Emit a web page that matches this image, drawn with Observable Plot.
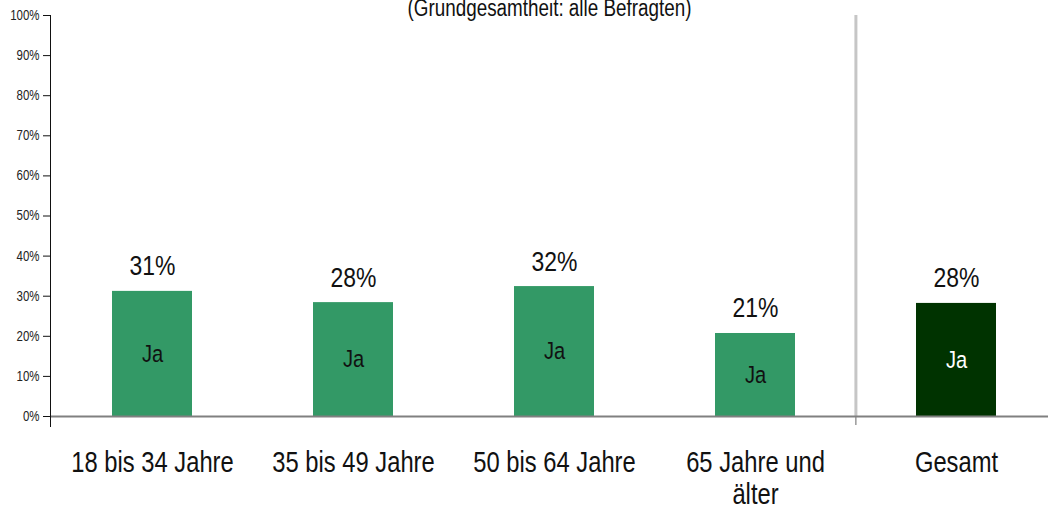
<!DOCTYPE html>
<html>
<head>
<meta charset="utf-8">
<script src="https://cdn.jsdelivr.net/npm/d3@7"></script>
<script src="https://cdn.jsdelivr.net/npm/@observablehq/plot@0.6"></script>
<style>
  html, body { margin: 0; padding: 0; background: #fff; overflow: hidden; }
  svg { display: block; }
</style>
</head>
<body>
<div id="chart"></div>
<script>
const categories = ["18 bis 34 Jahre", "35 bis 49 Jahre", "50 bis 64 Jahre", "65 Jahre und\nälter", "Gesamt"];
const values = [31.2, 28.4, 32.4, 20.7, 28.2];
const valueLabels = ["31%", "28%", "32%", "21%", "28%"];
const barLabels = ["Ja", "Ja", "Ja", "Ja", "Ja"];
const groups = ["Alter", "Alter", "Alter", "Alter", "Gesamt"];
const yTicks = [0, 10, 20, 30, 40, 50, 60, 70, 80, 90, 100];
const subtitle = "(Grundgesamtheit: alle Befragten)";

const data = categories.map((c, i) => ({cat: c, value: values[i], label: valueLabels[i], inner: barLabels[i], group: groups[i]}));

const font = "'Liberation Sans', Arial, sans-serif";
const xRange = [51, 1057];
const step = (xRange[1] - xRange[0]) / categories.length;
const narrow = 0.82; // emulate a narrow (condensed) typeface

const chart = Plot.plot({
  width: 1048,
  height: 506,
  marginLeft: 50,
  marginRight: 0,
  marginTop: 15,
  marginBottom: 90,
  style: {fontFamily: font, background: "#fff", color: "#1a1a1a"},
  x: {type: "band", domain: categories, range: xRange, paddingInner: 0.6, paddingOuter: 0.3, axis: null},
  y: {domain: [0, 100], axis: null},
  color: {domain: ["Alter", "Gesamt"], range: ["#339966", "#003300"]},
  marks: [
    Plot.ruleX([categories[4]], {dx: -step / 2, stroke: "#c6c6c6", strokeWidth: 3}),
    Plot.ruleX([categories[4]], {dx: -step / 2, stroke: "#666", strokeWidth: 1, insetTop: 401, insetBottom: -9}),
    Plot.barY(data, {x: "cat", y: "value", fill: "group"}),
    Plot.ruleY([0], {stroke: "#808080", strokeWidth: 2}),
    Plot.axisY({ticks: yTicks, tickFormat: d => d + "%", tickSize: 7, tickPadding: 4, fontSize: 14, label: null, stroke: "#111", fill: "#222"}),
    Plot.frame({anchor: "left", stroke: "#111", insetBottom: -10}),
    Plot.text(data, {x: "cat", y: "value", text: "label", dy: -25, fontSize: 28, fill: "#111"}),
    Plot.text(data, {x: "cat", y: d => d.value / 2, text: "inner", fontSize: 24.5, fill: d => d.group === "Gesamt" ? "#fff" : "#111"}),
    Plot.text(data, {x: "cat", y: 0, text: "cat", lineAnchor: "top", dy: 32, fontSize: 29, lineHeight: 1.12, fill: "#111"}),
    Plot.text([subtitle], {frameAnchor: "top", lineAnchor: "top", dy: -16, fontSize: 23, fill: "#111"})
  ]
});
// condense all text horizontally around its anchor
d3.select(chart).selectAll("text").each(function() {
  const t = this.getAttribute("transform");
  if (t) this.setAttribute("transform", t + ` scale(${narrow},1)`);
  else {
    const x = +(this.getAttribute("x") || 0), y = +(this.getAttribute("y") || 0);
    this.removeAttribute("x"); this.removeAttribute("y");
    this.setAttribute("transform", `translate(${x},${y}) scale(${narrow},1)`);
  }
});
document.getElementById("chart").append(chart);
</script>
</body>
</html>
